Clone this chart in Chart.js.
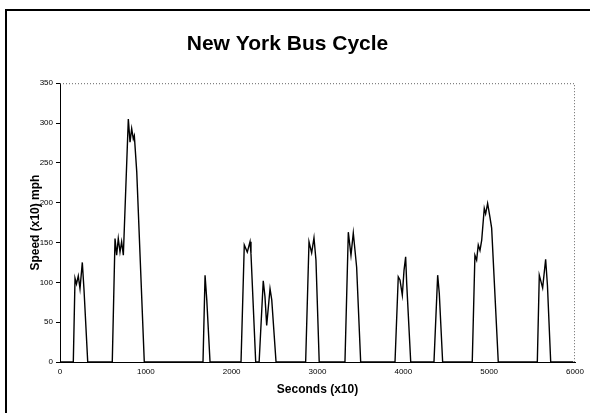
<!DOCTYPE html>
<html><head><meta charset="utf-8">
<script src="https://cdn.jsdelivr.net/npm/chart.js@4"></script>
<style>html,body{margin:0;padding:0;background:#fff}#wrap{width:590px;height:413px;position:relative}</style>
</head><body><div id="wrap"><canvas id="c"></canvas></div>
<script>
const timeSec10 = [0,155,175,192,213,233,260,280,323,
  609,641,660,679,699,718,738,796,816,835,854,866,894,982,
  1666,1690,1710,1748,
  2109,2147,2182,2214,2225,2280,
  2320,2368,2388,2408,2447,2467,2517,
  2862,2901,2932,2959,2982,3020,
  3320,3359,3390,3417,3456,3503,
  3903,3941,3961,3988,4008,4027,4039,4086,
  4357,4400,4419,4458,
  4803,4834,4854,4873,4893,4913,4943,4959,4982,5009,5029,5106,
  5561,5584,5623,5658,5679,5717,
  5980];
const speedMph10 = [0,0,105,98,108,92,125,90,0,
  0,155,134,155,138,151,134,305,276,293,280,284,239,0,
  0,109,78,0,
  0,147,138,151,136,0,
  0,102,82,46,92,78,0,
  0,151,137,156,128,0,
  0,163,134,162,119,0,
  0,107,103,84,115,132,99,0,
  0,109,86,0,
  0,134,128,147,140,153,193,186,199,182,168,0,
  0,109,93,129,96,0,
  0];
const xTickValues = [0,1000,2000,3000,4000,5000,6000];
const yTickValues = [0,50,100,150,200,250,300,350];
const chartTitle = 'New York Bus Cycle';
const xTitle = 'Seconds (x10)';
const yTitle = 'Speed (x10) mph';

const points = timeSec10.map((t,i)=>({x:t,y:speedMph10[i]}));
const FONT = '"Liberation Sans", Arial, Helvetica, sans-serif';

const framePlugin = {
  id:'frame',
  beforeDraw(chart){
    const ctx = chart.ctx;
    ctx.save();
    ctx.fillStyle = '#fff';
    ctx.fillRect(0,0,chart.width,chart.height);
    ctx.strokeStyle = '#000';
    ctx.lineWidth = 2;
    ctx.beginPath();
    ctx.moveTo(6,413); ctx.lineTo(6,10); ctx.lineTo(590,10);
    ctx.stroke();
    ctx.restore();
  },
  beforeDatasetsDraw(chart){
    const a = chart.chartArea, ctx = chart.ctx;
    ctx.save();
    ctx.strokeStyle = '#666';
    ctx.lineWidth = 1;
    ctx.setLineDash([1,2]);
    ctx.beginPath();
    ctx.moveTo(a.left, a.top+0.5); ctx.lineTo(a.right-0.5, a.top+0.5); ctx.lineTo(a.right-0.5, a.bottom);
    ctx.stroke();
    ctx.restore();
  }
};

new Chart(document.getElementById('c'), {
  type: 'line',
  data: { datasets: [{ data: points, borderColor:'#000', borderWidth:1.4, pointRadius:0, tension:0, fill:false }] },
  options: {
    responsive:true, maintainAspectRatio:false, animation:false, devicePixelRatio:1,
    layout:{ padding:{top:10,right:15,bottom:0,left:0} },
    plugins:{
      legend:{display:false}, tooltip:{enabled:false},
      title:{ display:true, text:chartTitle, color:'#000',
        font:{family:FONT,size:21,weight:'bold'}, padding:{top:22,bottom:26} }
    },
    scales:{
      x:{ type:'linear', min:0, max:6000,
        afterBuildTicks:s=>{ s.ticks = xTickValues.map(v=>({value:v})); },
        afterFit:s=>{ s.height = 51; },
        ticks:{ color:'#000', font:{family:FONT,size:8}, padding:5, maxRotation:0, autoSkip:false, callback:v=>String(v) },
        grid:{ display:true, drawOnChartArea:false, drawTicks:false },
        border:{ display:true, color:'#000', width:1 },
        title:{ display:true, text:xTitle, color:'#000', font:{family:FONT,size:12,weight:'bold'}, padding:{top:0,bottom:16} }
      },
      y:{ type:'linear', min:0, max:350,
        afterBuildTicks:s=>{ s.ticks = yTickValues.map(v=>({value:v})); },
        afterFit:s=>{ s.width = 60; },
        ticks:{ color:'#000', font:{family:FONT,size:8}, padding:3, autoSkip:false, callback:v=>String(v) },
        grid:{ display:true, drawOnChartArea:false, drawTicks:true, tickLength:4, color:'#000' },
        border:{ display:true, color:'#000', width:1 },
        title:{ display:true, text:yTitle, color:'#000', font:{family:FONT,size:12,weight:'bold'}, padding:{top:28,bottom:0} }
      }
    }
  },
  plugins:[framePlugin]
});
</script></body></html>
